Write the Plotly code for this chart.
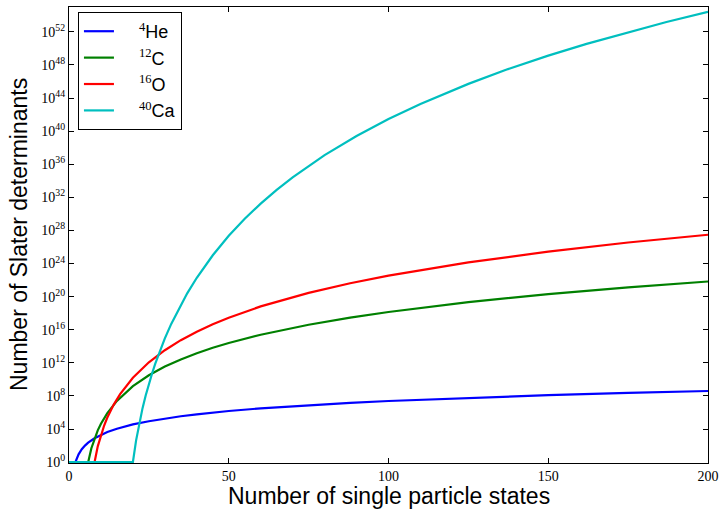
import plotly.graph_objects as go

# Number of single particle states (x) and log10(number of Slater determinants) (y)
he_x = [0, 2, 3, 4, 5, 6, 8, 10, 12, 15, 20, 25, 30, 35, 40, 45, 50, 60, 75, 88, 100, 125, 150, 175, 200]
he_y = [0, 0, 0.95, 1.56, 2.0, 2.35, 2.89, 3.31, 3.64, 4.04, 4.56, 4.95, 5.28, 5.55, 5.78, 5.99, 6.18, 6.50, 6.89, 7.17, 7.39, 7.78, 8.10, 8.37, 8.60]

c_x = [0, 6, 7, 8, 9, 10, 11, 12, 15, 18, 20, 25, 30, 35, 40, 45, 50, 60, 75, 88, 100, 125, 150, 175, 200]
c_y = [0, 0, 1.69, 2.89, 3.85, 4.64, 5.33, 5.93, 7.40, 8.54, 9.18, 10.50, 11.55, 12.42, 13.17, 13.82, 14.40, 15.40, 16.61, 17.47, 18.15, 19.34, 20.31, 21.13, 21.83]

o_x = [0, 8, 9, 10, 11, 12, 13, 14, 16, 18, 20, 25, 30, 35, 40, 45, 50, 60, 75, 88, 100, 125, 150, 175, 200]
o_y = [0, 0, 1.91, 3.31, 4.43, 5.39, 6.22, 6.96, 8.22, 9.28, 10.20, 12.07, 13.53, 14.74, 15.77, 16.67, 17.46, 18.82, 20.45, 21.62, 22.54, 24.14, 25.44, 26.54, 27.48]

ca_x = [0, 20, 21, 22, 23, 24, 25, 26, 27, 28, 30, 32, 35, 37, 40, 42, 45, 50, 55, 60, 65, 70, 75, 80, 90, 100, 110, 125, 137, 150, 162, 175, 187, 200]
ca_y = [0, 0, 2.64, 4.73, 6.50, 8.05, 9.45, 10.72, 11.90, 12.99, 14.96, 16.71, 19.02, 20.40, 22.28, 23.42, 25.00, 27.35, 29.41, 31.24, 32.90, 34.42, 35.81, 37.10, 39.41, 41.46, 43.29, 45.71, 47.44, 49.12, 50.55, 51.97, 53.19, 54.42]

x_ticks = [0, 50, 100, 150, 200]
y_tick_exps = list(range(0, 53, 4))

SERIF = "Liberation Serif"
SANS = "Liberation Sans"

series = [
    ("4", "He", he_x, he_y, "#0000ff"),
    ("12", "C", c_x, c_y, "#008000"),
    ("16", "O", o_x, o_y, "#ff0000"),
    ("40", "Ca", ca_x, ca_y, "#00bfbf"),
]

fig = go.Figure()
for sup, el, xs, ys, col in series:
    fig.add_trace(go.Scatter(
        x=xs, y=[10.0 ** v for v in ys], mode="lines",
        line=dict(color=col, width=2.2),
        name=f'\u00a0\u00a0\u00a0\u00a0<span style="font-family:{SERIF}"><sup>{sup}</sup></span>{el}',
    ))

axis_common = dict(
    showline=True, linecolor="black", linewidth=1.2, mirror="ticks",
    ticks="inside", ticklen=5, tickcolor="black", tickwidth=1,
    showgrid=False, zeroline=False, automargin=False,
    tickfont=dict(family=SERIF, size=14, color="black"),
)

fig.update_layout(
    template="none",
    width=720, height=511,
    margin=dict(l=69, r=12, t=7, b=48),
    paper_bgcolor="white", plot_bgcolor="white",
    xaxis=dict(
        range=[0, 200], tickvals=x_ticks, ticktext=[str(v) for v in x_ticks],
        **axis_common,
    ),
    yaxis=dict(
        type="log", range=[-0.1, 55.0],
        tickvals=[10.0 ** e for e in y_tick_exps],
        ticktext=[f"10<sup>{e}</sup>" for e in y_tick_exps],
        **axis_common,
    ),
    legend=dict(
        x=0.014, y=0.989, xanchor="left", yanchor="top",
        bgcolor="white", bordercolor="black", borderwidth=1,
        font=dict(family=SANS, size=18, color="black"),
        tracegroupgap=0, itemwidth=30,
    ),
    showlegend=True,
    annotations=[
        dict(text="Number of single particle states", xref="paper", yref="paper",
             x=0.5, y=0, yshift=-33, xanchor="center", yanchor="middle", showarrow=False,
             font=dict(family=SANS, size=23, color="black")),
        dict(text="Number of Slater determinants", xref="paper", yref="paper",
             x=0, y=0.5, xshift=-50, xanchor="center", yanchor="middle", showarrow=False,
             textangle=-90, font=dict(family=SANS, size=23, color="black")),
    ],
)

fig.write_html(
    "out.html",
    config={"displayModeBar": False},
    post_script="document.body.style.margin='0';document.body.style.overflow='hidden';",
)
